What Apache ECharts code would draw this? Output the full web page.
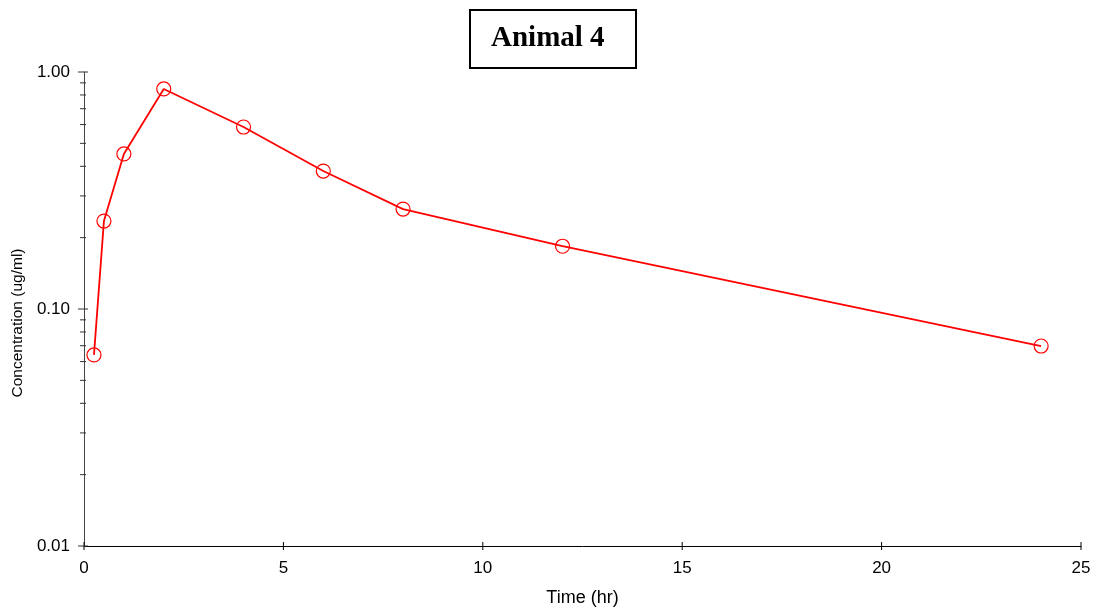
<!DOCTYPE html>
<html>
<head>
<meta charset="utf-8">
<script src="https://cdn.jsdelivr.net/npm/echarts@6/dist/echarts.min.js"></script>
<style>
  html, body { margin: 0; padding: 0; background: #fff; }
  #chart { width: 1102px; height: 611px; }
</style>
</head>
<body>
<div id="chart"></div>
<script>
// sampling times (hr) and measured concentration (ug/ml)
const times = [0.25, 0.5, 1, 2, 4, 6, 8, 12, 24];
const concentration = [0.064, 0.235, 0.451, 0.848, 0.586, 0.382, 0.264, 0.184, 0.0698];

const xTicks = [0, 5, 10, 15, 20, 25];
const yMajorTicks = [0.01, 0.1, 1];
const yMinorTicks = [0.02, 0.03, 0.04, 0.05, 0.06, 0.07, 0.08, 0.09,
  0.2, 0.3, 0.4, 0.5, 0.6, 0.7, 0.8, 0.9];

const font = "'Liberation Sans', Arial, sans-serif";

// ticks that cross the axis line on both sides
const tickData = [
  ...xTicks.map(v => ['x', v, 4]),
  ...yMajorTicks.map(v => ['y', v, 5]),
  ...yMinorTicks.map(v => ['y', v, 3]),
];

function renderTick(params, api) {
  const item = tickData[params.dataIndex];
  const half = item[2];
  if (item[0] === 'x') {
    const p = api.coord([item[1], 0.01]);
    return {
      type: 'line',
      shape: { x1: p[0], y1: p[1] - half, x2: p[0], y2: p[1] + half },
      style: { stroke: '#000', lineWidth: 1 }
    };
  }
  const p = api.coord([0, item[1]]);
  return {
    type: 'line',
    shape: { x1: p[0] - half - 1, y1: p[1], x2: p[0] + half - 1, y2: p[1] },
    style: { stroke: '#333', lineWidth: 1 }
  };
}

const chart = echarts.init(document.getElementById('chart'), null, { renderer: 'canvas' });

chart.setOption({
  animation: false,
  backgroundColor: '#fff',
  title: {
    text: 'Animal 4',
    left: 470,
    top: 10,
    padding: [12, 32, 12, 21],
    borderColor: '#000',
    borderWidth: 2,
    textStyle: {
      fontFamily: "'Liberation Serif', 'Times New Roman', serif",
      fontWeight: 'bold',
      fontSize: 29,
      lineHeight: 34,
      color: '#000'
    }
  },
  grid: {
    left: 84, right: 21, top: 72, bottom: 65,
    containLabel: false,
    outerBoundsMode: 'none'
  },
  xAxis: {
    type: 'value',
    min: 0,
    max: 25,
    interval: 5,
    name: 'Time (hr)',
    nameLocation: 'middle',
    nameGap: 43,
    nameTextStyle: { fontFamily: font, fontSize: 18, color: '#000' },
    axisLine: { onZero: false, lineStyle: { color: '#000', width: 1 } },
    axisTick: { show: false },
    axisLabel: { fontFamily: font, fontSize: 17, color: '#000', margin: 14 },
    splitLine: { show: false }
  },
  yAxis: {
    type: 'log',
    logBase: 10,
    min: 0.01,
    max: 1,
    name: 'Concentration (ug/ml)',
    nameLocation: 'middle',
    nameGap: 57,
    nameTextStyle: {
      fontFamily: font, fontSize: 15.5, color: '#000',
      padding: [0, 28, 0, 0]
    },
    axisLine: { lineStyle: { color: '#444', width: 1 } },
    axisTick: { show: false },
    axisLabel: {
      fontFamily: font, fontSize: 17, color: '#000', margin: 14,
      formatter: v => v.toFixed(2)
    },
    splitLine: { show: false }
  },
  series: [
    {
      type: 'line',
      data: times.map((t, i) => [t, concentration[i]]),
      symbol: 'circle',
      symbolSize: 14,
      lineStyle: { color: '#ff0000', width: 1.8 },
      itemStyle: { color: 'rgba(0,0,0,0)', borderColor: '#ff0000', borderWidth: 1.2 },
      z: 3
    },
    {
      type: 'custom',
      data: tickData.map((d, i) => [i]),
      renderItem: renderTick,
      clip: false,
      silent: true,
      z: 2
    }
  ]
});
</script>
</body>
</html>
